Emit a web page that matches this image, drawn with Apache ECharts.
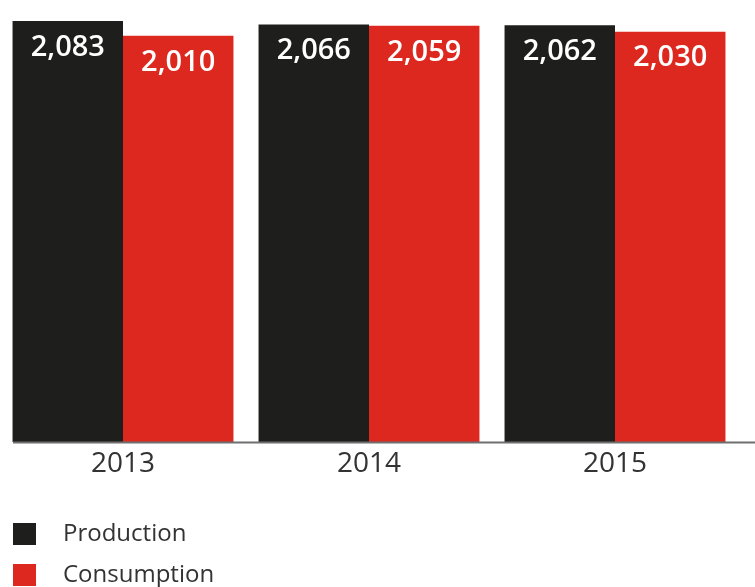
<!DOCTYPE html>
<html>
<head>
<meta charset="utf-8">
<script src="https://cdn.jsdelivr.net/npm/echarts@6/dist/echarts.min.js"></script>
<style>
  html, body { margin: 0; padding: 0; background: #fff; }
  #chart { width: 755px; height: 587px; }
</style>
</head>
<body>
<div id="chart"></div>
<script>
// Yearly production vs consumption
const years = ['2013', '2014', '2015'];
const production = [2083, 2066, 2062];
const consumption = [2010, 2059, 2030];
const seriesNames = ['Production', 'Consumption'];

const FONT = '"Open Sans", "Noto Sans", sans-serif';

const chart = echarts.init(document.getElementById('chart'), null, { renderer: 'canvas' });

const valueLabel = {
  show: true,
  position: 'insideTop',
  distance: 12,
  color: '#ffffff',
  fontFamily: FONT,
  fontSize: 29,
  fontWeight: 600,
  formatter: p => p.value.toLocaleString('en-US')
};

// one stacked legend entry per row
const legendRow = (name, top) => ({
  orient: 'vertical',
  left: 13,
  top: top,
  padding: 0,
  itemWidth: 23,
  itemHeight: 22,
  icon: 'rect',
  textStyle: {
    color: '#333333',
    fontFamily: FONT,
    fontSize: 24,
    padding: [4, 0, 0, 22]
  },
  data: [name]
});

chart.setOption({
  animation: false,
  backgroundColor: '#ffffff',
  grid: { left: 0, top: 0, width: 738, height: 442 },
  legend: [legendRow(seriesNames[0], 522), legendRow(seriesNames[1], 563)],
  xAxis: {
    type: 'category',
    data: years,
    axisLine: { show: false },
    axisTick: { show: false },
    axisLabel: {
      color: '#333333',
      fontFamily: FONT,
      fontSize: 28,
      margin: 8
    }
  },
  yAxis: {
    type: 'value',
    min: 0,
    max: 2187,
    show: false,
    splitLine: { show: false }
  },
  graphic: [{
    type: 'line',
    shape: { x1: 13, y1: 442.5, x2: 755, y2: 442.5 },
    style: { stroke: '#6f6f6f', lineWidth: 2 },
    z: 10
  }],
  series: [
    {
      name: seriesNames[0],
      type: 'bar',
      data: production,
      barGap: '0%',
      barCategoryGap: '10.2%',
      itemStyle: { color: '#1e1e1c' },
      label: valueLabel
    },
    {
      name: seriesNames[1],
      type: 'bar',
      data: consumption,
      itemStyle: { color: '#dc281e' },
      label: valueLabel
    }
  ]
});
</script>
</body>
</html>
